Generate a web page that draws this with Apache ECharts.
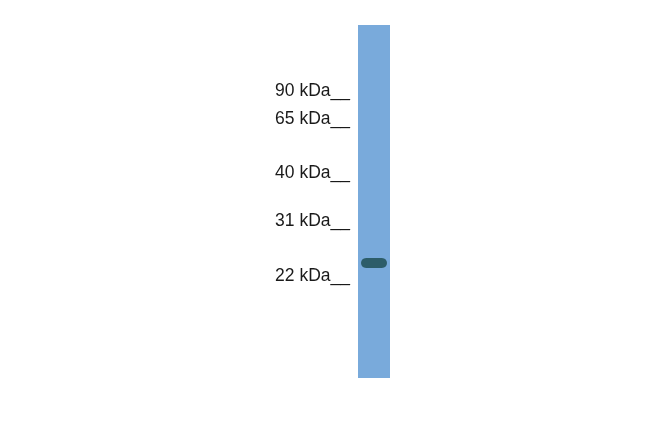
<!DOCTYPE html>
<html>
<head>
<meta charset="utf-8">
<script src="https://cdn.jsdelivr.net/npm/echarts@6/dist/echarts.min.js"></script>
<style>
  html, body { margin: 0; padding: 0; background: #fff; }
  #chart { width: 650px; height: 433px; }
</style>
</head>
<body>
<div id="chart"></div>
<script>
// migration distance down the lane (px from the top of the lane)
var laneLength = 353;
var markerLabels = ['90', '65', '40', '31', '22'];
var markerPos = [66, 94, 148, 196, 251];
var bandPos = [238];

var chart = echarts.init(document.getElementById('chart'));

var option = {
    animation: false,
    grid: { left: 358, width: 32, top: 25, height: laneLength },
    xAxis: {
        type: 'category',
        data: ['lane'],
        show: false
    },
    yAxis: {
        type: 'value',
        min: 0,
        max: laneLength,
        inverse: true,
        splitLine: { show: false },
        axisLine: { show: false },
        axisTick: { show: false },
        axisLabel: {
            customValues: markerPos,
            margin: 8,
            color: '#1a1a1a',
            fontFamily: 'Liberation Sans, Arial, sans-serif',
            fontSize: 17.5,
            formatter: function (v) {
                var i = markerPos.indexOf(v);
                return i < 0 ? '' : markerLabels[i] + ' kDa__';
            }
        }
    },
    series: [{
        type: 'bar',
        data: [laneLength],
        barWidth: '100%',
        itemStyle: { color: '#79aadb' },
        silent: true
    }, {
        type: 'scatter',
        data: bandPos.map(function (p) { return ['lane', p]; }),
        // pill-shaped band
        symbol: 'path://M5,0 L21,0 C28,0 28,10 21,10 L5,10 C-2,10 -2,0 5,0 Z',
        symbolSize: [26, 10],
        itemStyle: { color: '#1a4a4c' },
        silent: true
    }]
};

chart.setOption(option);
</script>
</body>
</html>
